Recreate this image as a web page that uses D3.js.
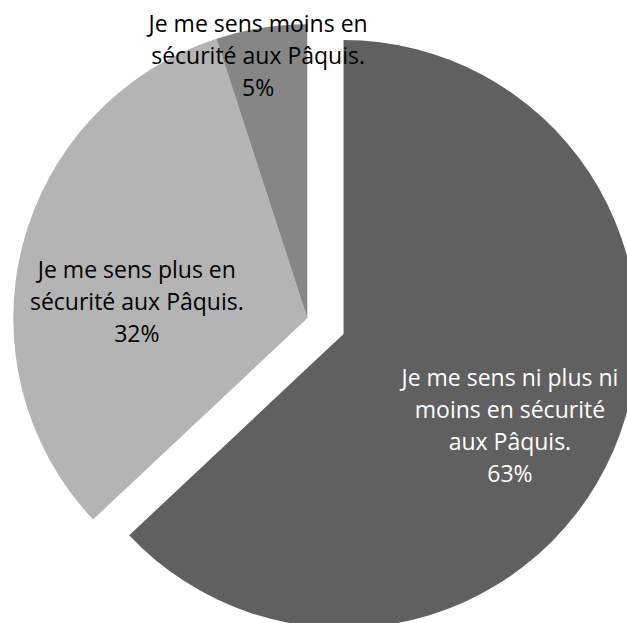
<!DOCTYPE html>
<html>
<head>
<meta charset="utf-8">
<script src="https://cdn.jsdelivr.net/npm/d3@7"></script>
<style>
  html, body { margin: 0; padding: 0; background: #ffffff; }
  svg { display: block; }
  text { font-family: "Open Sans", Lato, sans-serif; }
</style>
</head>
<body>
<svg id="chart" width="627" height="623"></svg>
<script>
// Survey answers, in clockwise order starting at 12 o'clock
const categories = [
  "Je me sens ni plus ni moins en sécurité aux Pâquis.",
  "Je me sens plus en sécurité aux Pâquis.",
  "Je me sens moins en sécurité aux Pâquis."
];
const shares = [63, 32, 5];
const percentLabels = ["63%", "32%", "5%"];

// Wrapped label lines for each category
const labelLines = [
  ["Je me sens ni plus ni", "moins en sécurité", "aux Pâquis."],
  ["Je me sens plus en", "sécurité aux Pâquis."],
  ["Je me sens moins en", "sécurité aux Pâquis."]
];

// Appearance
const sliceColors = ["#606060", "#b4b4b4", "#868686"];
const labelColors = ["#ffffff", "#000000", "#000000"];
const exploded = [39.5, 0, 0];          // outward offset of each slice
const labelRadius = [190, 176, 257];     // distance of label anchor from slice centre
const labelNudge = [[-8, 25], [0, 35], [-9, 0]];

const width = 627, height = 623;
const cx = 307.3, cy = 318.3, radius = 294;
const fontSize = 23, lineStep = 32;

const svg = d3.select("#chart");
const g = svg.append("g").attr("transform", `translate(${cx},${cy})`);

const pie = d3.pie().sort(null).value(d => d.value);
const data = pie(shares.map((v, i) => ({ value: v, i })));
const arc = d3.arc().innerRadius(0).outerRadius(radius);

function offsetOf(d) {
  const mid = (d.startAngle + d.endAngle) / 2;
  const k = exploded[d.data.i];
  return [Math.sin(mid) * k, -Math.cos(mid) * k];
}

const slices = g.selectAll("g.slice")
  .data(data)
  .join("g")
  .attr("class", "slice")
  .attr("transform", d => { const o = offsetOf(d); return `translate(${o[0]},${o[1]})`; });

slices.append("path")
  .attr("d", arc)
  .attr("fill", d => sliceColors[d.data.i]);

// Labels: category lines followed by the percentage
slices.each(function(d) {
  const i = d.data.i;
  const mid = (d.startAngle + d.endAngle) / 2;
  const r = labelRadius[i];
  const ax = Math.sin(mid) * r + labelNudge[i][0];
  const ay = -Math.cos(mid) * r + labelNudge[i][1];
  const lines = labelLines[i].concat([percentLabels[i]]);
  const first = ay - (lines.length - 1) * lineStep / 2;
  const t = d3.select(this).append("text")
    .attr("text-anchor", "middle")
    .attr("font-size", fontSize)
    .attr("fill", labelColors[i]);
  lines.forEach((ln, k) => {
    t.append("tspan")
      .attr("x", ax)
      .attr("y", first + k * lineStep)
      .text(ln);
  });
});
</script>
</body>
</html>
